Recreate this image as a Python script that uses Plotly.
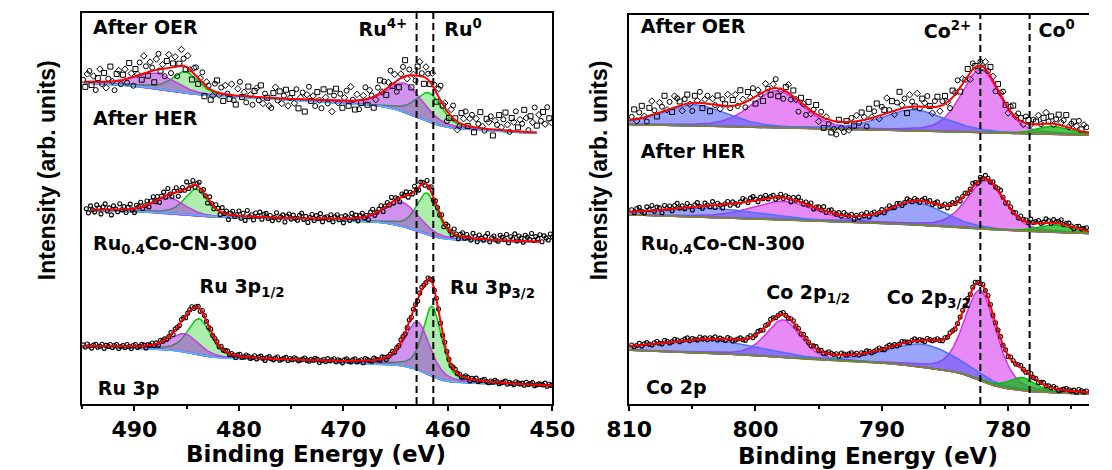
import math
import numpy as np
import plotly.graph_objects as go

# ---------------- Ru 3p panel ----------------
RU_STATE = ["Ru4+", "Ru0", "Ru4+", "Ru0"]
RU_LEVEL = ["3p1/2", "3p1/2", "3p3/2", "3p3/2"]
RU_ETA = 0.45

RU_OER_CENTER = [488.0, 485.1, 464.1, 461.8]
RU_OER_HEIGHT = [15, 21, 29, 29]
RU_OER_FWHM = [4.5, 3.0, 4.0, 3.0]

RU_HER_CENTER = [486.7, 484.1, 464.4, 462.0]
RU_HER_HEIGHT = [15.5, 26.5, 24, 41]
RU_HER_FWHM = [3.5, 2.6, 3.8, 2.4]

RU_BULK_CENTER = [485.2, 483.8, 462.9, 461.5]
RU_BULK_HEIGHT = [18, 36, 48, 70]
RU_BULK_FWHM = [3.2, 2.6, 2.8, 2.1]

RU_BG_LEVEL = [270, 161.5, 18]
RU_BG_SLOPE = [0.45, 0.2, 0.3]
RU_STEP_3P12 = [8, 4.5, 8.2]
RU_STEP_3P32 = [23, 18.7, 17.9]
RU_FIT_START = [494.8, 494.1, 495.0]
RU_FIT_END = [451.5, 451.1, 450.0]

RU_OER_START, RU_OER_STEP = 494.9, 0.2
RU_OER_RES = [
    2, -5, 8, 11, -3, 6, -8, 4, 13, -2, 9, -6, 3, 15, 0, -9, 7, 10, -4, 5,
    10, -4, 15, 4, -9, 7, 1, 12, -6, 17, 6, -4, 9, 3, -12, 11, 16, -1, 5, -7,
    8, 14, -5, 4, 10, -10, 2, 16, 7, -3, 12, 0, -8, 6, 9, -5, 3, 11, -11, 5,
    3, -10, -5, 8, 12, -2, 6, -7, 9, 1, -4, 11, -5, -9, 7, 14, -1, 4, -6, 10,
    2, -8, 6, 9, -3, 12, -6, 4, 0, -8, -10, 5, 11, -2, 7, -5, 3, 9, -7, 1,
    6, -4, 10, -9, 2, 7, -12, 5, 13, -1, 4, -6, 8, 0, -8, 11, 3, -3, 9, -11,
    5, 12, -2, 7, -7, 3, 10, -5, 14, 1, -9, 6, -9, -3, 4, 12, -6, 8, 2, -11,
    -4, 7, 13, 0, 9, -6, 5, 15, -2, 8, -11, -8, 4, 10, 16, -3, 6, -12, 1, -5,
    9, 14, 3, -7, 11, 6, -2, 12, 4, -9, 8, 15, -1, 5, -10, -4, 7, 13, 2, -8,
    -3, 11, 6, 14, 0, 8, 12, -5, 9, 4, 16, 2, -2, 10, 7, 13, -6, 9, 5, 15,
    3, 11, 18, 6, -1, 13, 9, 20, 4, 12, 8, 22, 14, 2, 16, 10, 25, 7, 18, 12,
    21, 9, 26, 15, 11, 19,
]
RU_HER_START, RU_HER_STEP = 494.6, 0.2
RU_HER_RES = [
    1, -3, 4, 0, -2, 5, 2, -4, 3, 6, -1, 2, -5, 4, 1, -2, 6, 0, 3, -3,
    2, 5, -1, -4, 3, 1, 5, -2, 0, 4, -3, 2, 5, -1, 3, -4, 1, 4, -2, 6,
    0, -3, 2, 5, -4, 1, 3, -1, 6, -2, 0, 4, -3, 2, 5, -1, 3, 0, -4, 5,
    1, -2, 4, 2, -3, 5, 0, 3, -5, 2, 4, -1, 1, 5, -2, 3, -4, 6, 0, 2,
    -3, 4, 1, 5, -2, 3, 4, -1, 2, -3, 0, 5, -2, 1, 3, -4, 2, 4, -1, 3,
    0, -2, 3, 5, -1, 2, -4, 1, 4, -2, 3, 0, 5, -3, 1, 2, -1, 4, -3, 2,
    4, -1, 2, -4, 3, 1, -2, 5, 0, 3, -3, 2, 4, -1, 1, -4, 3, 5, -2, 0,
    2, 4, -3, 1, 3, -1, 5, -2, 2, 0, -4, 3, 1, 4, -2, 2, -1, 5, 0, -3,
    3, 1, -2, 4, 0, 5, -3, 2, 1, -1, 4, -4, 2, 3, 0, -2, 5, 1, -3, 2,
    4, -1, 3, 0, -2, 5, 2, -3, 4, 1, -1, 3, 6, -2, 2, 4, 0, -1, 5, 3,
    1, 6, -2, 4, 2, 7, 0, 5, 3, -1, 6, 4, 2, 8, 1, 5, 3, 7, 0, 6,
    4, 2, 8, 5, 3, 9,
]
RU_BULK_START, RU_BULK_STEP = 494.9, 0.2
RU_BULK_RES = [
    1, -1, 2, 0, -2, 1, 2, -1, 0, 2, -2, 1, 0, 2, -1, 1, 2, -2, 0, 1,
    -1, 2, 0, -2, 1, 2, -1, 0, 2, 1, -2, 1, 0, 2, -1, 1, -2, 2, 0, 1,
    -1, 0, 2, -2, 1, 0, -1, 2, 1, -2, 0, 1, 2, -1, 0, 1, -2, 2, 1, 0,
    -1, 2, 0, 1, 1, -1, 2, 0, 1, 2, -1, 1, 0, -2, 1, 2, -1, 0, 2, 1,
    -1, 0, 2, -1, 1, 2, 0, -2, 1, 2, 0, -1, 1, 2, -1, 0, 1, 2, -1, 1,
    0, 2, 1, -1, 0, 1, 2, 0, -1, 1, 0, 2, 1, -2, 0, 1, -1, 2, 0, 1,
    2, -1, 1, 0, -2, 1, 2, 0, -1, 1, 2, -1, 0, 1, -2, 2, 1, 0, -1, 2,
    1, 0, -1, 2, 1, -2, 0, 1, 2, -1, 1, 0, 2, 1, -1, 0, 2, -1, 1, 0,
    -2, 1, 2, 0, -1, 1, 0, 2, -1, 1, 2, 0, -1, 2, 1, 0, -1, 1, 2, 0,
    1, -1, 0, 2, 1, -2, 1, 0, 2, -1, 0, 1, 2, 0, -1, 1, 0, 2, 1, -1,
    0, 1, 2, -1, 1, 0, -1, 2, 1, 0, 1, -1, 2, 0, 1, 2, -1, 0, 1, 1,
    0, 2, -1, 1, 0, 1,
]
RU_REF_LINES = [463.0, 461.4]

RU_LABELS = ["After OER", "Ru<sup>4+</sup>", "Ru<sup>0</sup>", "After HER",
             "Ru<sub>0.4</sub>Co-CN-300", "Ru 3p<sub>1/2</sub>", "Ru 3p<sub>3/2</sub>", "Ru 3p"]

# ---------------- Co 2p panel ----------------
CO_STATE = ["sat", "Co2+", "sat", "Co2+", "Co0"]
CO_LEVEL = ["2p1/2", "2p1/2", "2p3/2", "2p3/2", "2p3/2"]
CO_ETA = 0.35

CO_OER_CENTER = [804.8, 798.3, 787.5, 782.2, 776.5]
CO_OER_HEIGHT = [21, 37, 21, 63, 8]
CO_OER_FWHM = [6.0, 4.8, 6.0, 3.6, 3.0]

CO_HER_CENTER = [803.5, 797.8, 787.2, 781.8, 776.3]
CO_HER_HEIGHT = [9, 18.5, 22, 48, 7.5]
CO_HER_FWHM = [9.0, 5.9, 5.0, 3.5, 3.0]

CO_BULK_CENTER = [803.5, 797.8, 786.7, 782.2, 778.9]
CO_BULK_HEIGHT = [13, 37.5, 23, 90, 13]
CO_BULK_FWHM = [9.0, 3.2, 6.5, 3.0, 2.5]

CO_BG_LEVEL = [269, 170.5, 10]
CO_BG_SLOPE = [0.22, 0.35, 0.3]
CO_STEP_2P12 = [1, 1, 5]
CO_STEP_2P32 = [1.5, 5, 28]
CO_FIT_START = [810.0, 810.0, 810.0]
CO_FIT_END = [773.6, 773.6, 773.6]

CO_OER_START, CO_OER_STEP = 809.8, 0.2
CO_OER_RES = [
    3, 10, -2, 6, 12, 1, -5, 8, 14, 4, -3, 10, 5, 15, 0, 7, -4, 11, 8, 4,
    -6, 5, 9, -1, -8, 7, 2, 11, -5, 4, 8, -7, 6, 0, 10, -3, 7, 2, 12, -2,
    6, 11, -1, 14, 4, -5, 9, 2, 10, -7, 5, -1, -9, 7, 1, -6, 4, 9, -8, -2,
    -9, 4, 8, -5, 6, -1, -11, 5, 1, -8, 7, -3, 3, 9, -6, 5, -10, 2, -4, -12,
    -8, -13, 2, -6, -10, 1, -8, 4, -4, 6, -2, 8, 3, -7, 10, 1, 6, 13, -3, 8,
    4, 15, 2, 10, -4, 7, 17, 3, 9, -6, 12, 5, 0, 13, -2, 8, 4, 11, 1, -6,
    6, 10, -5, 4, 8, 0, -8, 7, 2, 11, -4, 5, 0, 7, -7, 6, 1, -5, 4, -1,
    7, 1, 9, 4, -6, 6, 2, 8, -1, -5, 5, 9, 1, 6, 3, -2, 7, 4, 0, 5,
    3, 9, 0, 6, 11, 2, 7, -1, 5, 10, 3, 6, 12, 1, 5, 8, 4, 10, 2, 7,
    5, 9, 3,
]
CO_HER_START, CO_HER_STEP = 809.8, 0.2
CO_HER_RES = [
    2, -1, 3, 4, 0, -2, 4, 1, 5, -1, 3, 2, -3, 4, 1, 3, -2, 3, 5, 0,
    2, -1, 4, 1, -3, 2, 4, 0, -2, 3, 1, -1, 4, -2, 2, 0, -3, 1, 3, -1,
    2, 0, -2, 1, 4, 2, -1, 3, 4, 1, -2, 2, 0, 3, -1, 1, 2, -2, 0, 3,
    -1, 2, 1, -3, 2, 0, 4, 1, -1, 2, 0, 3, -2, 1, 2, 0, 4, -1, 2, 3,
    1, 0, 2, -1, 3, 1, 0, 2, -3, 1, -1, 2, 0, 3, -2, 1, 2, -1, 0, 2,
    -2, 1, 3, 0, -1, 2, 1, -2, 0, 3, 1, -1, 2, 0, -2, 1, 3, 0, 2, -1,
    1, 3, -1, 0, 2, -2, 1, 2, 0, 3, -1, 1, 2, -1, 0, 3, 1, -2, 2, 0,
    3, 1, -1, 2, 0, 2, 4, 1, -1, 3, 2, 0, 2, -1, 3, 1, 2, 0, 4, 1,
    2, 3, 0, 1, 4, 2, -1, 3, 1, 2, 4, 0, 2, 3, 1, -1, 2, 3, 1, 2,
    3, 1, 2,
]
CO_BULK_START, CO_BULK_STEP = 809.8, 0.2
CO_BULK_RES = [
    1, -1, 0, 2, -1, 1, 2, 0, -1, 1, 2, 0, -1, 2, 1, -1, 0, 2, 1, -1,
    0, 1, 2, -1, 1, 0, -1, 2, 0, 1, -1, 1, 0, 2, -1, 1, 0, -1, 2, 1,
    -1, 0, 1, 2, 0, -1, 1, 2, -1, 0, 2, 1, -1, 1, 0, 2, 1, -1, 0, 1,
    2, 0, -1, 1, 2, 0, 1, -1, 2, 1, 0, -1, 1, 2, 0, 1, -1, 0, 2, 1,
    0, 1, -1, 2, 1, 0, 1, 2, 0, 1, -1, 1, 0, 2, 1, -1, 0, 1, 2, 0,
    -1, 1, 2, 0, 1, -1, 0, 2, 1, 0, -1, 1, 2, 0, 1, 0, -1, 2, 1, 0,
    1, 2, 0, -1, 1, 0, 2, 1, -1, 0, 1, 2, 0, 1, -1, 1, 2, 0, -1, 1,
    0, 2, 1, -1, 0, 1, 2, 0, 1, -1, 2, 1, 0, 1, 2, 0, -1, 1, 2, 0,
    1, -1, 1, 2, 0, 1, 0, 2, 1, -1, 0, 1, 2, 1, 0, 1, -1, 2, 1, 0,
    1, 2, 0,
]
CO_REF_LINES = [782.2, 778.3]

CO_LABELS = ["After OER", "Co<sup>2+</sup>", "Co<sup>0</sup>", "After HER",
             "Ru<sub>0.4</sub>Co-CN-300", "Co 2p<sub>1/2</sub>", "Co 2p<sub>3/2</sub>", "Co 2p"]

RU_RANGE = [495, 450]
CO_RANGE = [810, 773.6]

# ---------------- styles ----------------
FONT = "DejaVu Sans"
STYLE = {
    "Ru4+": dict(line="rgb(200,60,230)", fill="rgba(160,40,220,0.5)"),
    "Ru0": dict(line="rgb(0,205,0)", fill="rgba(60,215,60,0.42)"),
    "Co2+": dict(line="rgb(210,50,240)", fill="rgba(215,60,240,0.6)"),
    "sat": dict(line="rgb(80,110,255)", fill="rgba(70,90,245,0.55)"),
    "Co0": dict(line="rgb(0,190,0)", fill="rgba(20,180,20,0.75)"),
}
RU_DRAW_ORDER = ["Ru0", "Ru4+"]
CO_DRAW_ORDER = ["Co2+", "sat", "Co0"]
OER_SYMBOLS = ["circle-open", "square-open", "diamond-open"]

ERF = np.vectorize(math.erf)


def pseudo_voigt(e, c, h, w, eta):
    x = (np.asarray(e, dtype=float) - c) / w
    return h * ((1 - eta) * np.exp(-4 * math.log(2) * x ** 2) + eta / (1 + 4 * x ** 2))


def pv_area(e, c, h, w, eta):
    """Cumulative area of a pseudo-Voigt from -inf up to e."""
    e = np.asarray(e, dtype=float)
    sig = w / (2 * math.sqrt(2 * math.log(2)))
    g = 0.5 * (1 + ERF((e - c) / (sig * math.sqrt(2))))
    lor = 0.5 + np.arctan(2 * (e - c) / w) / math.pi
    return h * ((1 - eta) * sig * math.sqrt(2 * math.pi) * g + eta * (math.pi * w / 2) * lor)


def background(e, e_lo, e_hi, level, slope, steps, levels, centers, heights, widths, eta):
    """Linear slope plus a Shirley-type step for each spin-orbit group."""
    e = np.asarray(e, dtype=float)
    bg = level + slope * (e - e_lo)
    for group, step in steps.items():
        idx = [i for i, lv in enumerate(levels) if lv == group]

        def cum(x):
            return sum(pv_area(x, centers[i], heights[i], widths[i], eta) for i in idx)

        lo, hi = cum(e_lo), cum(e_hi)
        bg = bg + step * (cum(e) - lo) / (hi - lo)
    return bg


fig = go.Figure()


def add_spectrum(xa, ya, states, levels, centers, heights, widths, eta, bg_args,
                 fit_start, fit_end, pts_start, pts_step, residuals, draw_order,
                 noisy, base_color):
    e_lo, e_hi, level, slope, steps = bg_args
    e_fit = np.arange(fit_start, fit_end - 1e-9, -0.05)

    def bg(e):
        return background(e, e_lo, e_hi, level, slope, steps, levels, centers, heights, widths, eta)

    def comps(e):
        return [pseudo_voigt(e, c, h, w, eta) for c, h, w in zip(centers, heights, widths)]

    base = bg(e_fit)
    parts = comps(e_fit)
    for kind in draw_order:
        for i, st in enumerate(states):
            if st != kind:
                continue
            top = base + parts[i]
            fig.add_trace(go.Scatter(
                x=np.concatenate([e_fit, e_fit[::-1]]),
                y=np.concatenate([top, base[::-1]]),
                xaxis=xa, yaxis=ya, mode="lines", fill="toself",
                fillcolor=STYLE[kind]["fill"],
                line=dict(color=STYLE[kind]["line"], width=1.5),
                hoverinfo="skip",
            ))
    fig.add_trace(go.Scatter(x=e_fit, y=base, xaxis=xa, yaxis=ya, mode="lines",
                             line=dict(color=base_color, width=1.5), hoverinfo="skip"))

    e_pts = pts_start - pts_step * np.arange(len(residuals))
    y_pts = bg(e_pts) + sum(comps(e_pts)) + np.asarray(residuals, dtype=float)
    if noisy:
        symbols = [OER_SYMBOLS[i % len(OER_SYMBOLS)] for i in range(len(residuals))]
        marker = dict(symbol=symbols, size=5, color="black", line=dict(width=1, color="black"))
    else:
        marker = dict(symbol="circle-open", size=4, color="black", line=dict(width=1.1, color="black"))
    fig.add_trace(go.Scatter(x=e_pts, y=y_pts, xaxis=xa, yaxis=ya, mode="markers",
                             marker=marker, hoverinfo="skip"))

    fig.add_trace(go.Scatter(x=e_fit, y=base + sum(parts), xaxis=xa, yaxis=ya, mode="lines",
                             line=dict(color="rgb(255,0,0)", width=2), hoverinfo="skip"))


ru_sets = [
    (RU_OER_CENTER, RU_OER_HEIGHT, RU_OER_FWHM, RU_OER_START, RU_OER_STEP, RU_OER_RES, True),
    (RU_HER_CENTER, RU_HER_HEIGHT, RU_HER_FWHM, RU_HER_START, RU_HER_STEP, RU_HER_RES, False),
    (RU_BULK_CENTER, RU_BULK_HEIGHT, RU_BULK_FWHM, RU_BULK_START, RU_BULK_STEP, RU_BULK_RES, False),
]
for k, (cen, hei, fw, p0, dp, res, noisy) in enumerate(ru_sets):
    add_spectrum("x", "y", RU_STATE, RU_LEVEL, cen, hei, fw, RU_ETA,
                 (RU_RANGE[1], RU_RANGE[0], RU_BG_LEVEL[k], RU_BG_SLOPE[k],
                  {"3p1/2": RU_STEP_3P12[k], "3p3/2": RU_STEP_3P32[k]}),
                 RU_FIT_START[k], RU_FIT_END[k], p0, dp, res, RU_DRAW_ORDER, noisy,
                 "rgb(70,190,255)")

co_sets = [
    (CO_OER_CENTER, CO_OER_HEIGHT, CO_OER_FWHM, CO_OER_START, CO_OER_STEP, CO_OER_RES, True),
    (CO_HER_CENTER, CO_HER_HEIGHT, CO_HER_FWHM, CO_HER_START, CO_HER_STEP, CO_HER_RES, False),
    (CO_BULK_CENTER, CO_BULK_HEIGHT, CO_BULK_FWHM, CO_BULK_START, CO_BULK_STEP, CO_BULK_RES, False),
]
for k, (cen, hei, fw, p0, dp, res, noisy) in enumerate(co_sets):
    add_spectrum("x2", "y2", CO_STATE, CO_LEVEL, cen, hei, fw, CO_ETA,
                 (CO_RANGE[1], CO_RANGE[0], CO_BG_LEVEL[k], CO_BG_SLOPE[k],
                  {"2p1/2": CO_STEP_2P12[k], "2p3/2": CO_STEP_2P32[k]}),
                 CO_FIT_START[k], CO_FIT_END[k], p0, dp, res, CO_DRAW_ORDER, noisy,
                 "rgb(160,115,60)")

# in-panel labels drawn as text traces (x in eV, y in plot units)
LABEL_FONT = dict(family=FONT, size=19, color="black", weight="bold")
LABEL_POS = ["middle right", "middle left", "middle right", "middle right",
             "middle right", "middle right", "middle right", "middle right"]
fig.add_trace(go.Scatter(
    x=[493.96, 463.9, 460.35, 493.96, 493.96, 483.76, 459.8, 493.5],
    y=[375, 373, 373, 284, 159, 116, 115, 14],
    text=RU_LABELS, mode="text", xaxis="x", yaxis="y", cliponaxis=False,
    textposition=LABEL_POS, textfont=LABEL_FONT, hoverinfo="skip",
))
fig.add_trace(go.Scatter(
    x=[809.08, 782.93, 777.6, 809.08, 809.08, 799.15, 789.6, 808.66],
    y=[376, 371, 372, 251, 159, 110, 105, 15],
    text=CO_LABELS, mode="text", xaxis="x2", yaxis="y2", cliponaxis=False,
    textposition=LABEL_POS, textfont=LABEL_FONT, hoverinfo="skip",
))

shapes = []
for xe in RU_REF_LINES:
    shapes.append(dict(type="line", xref="x", yref="y domain", x0=xe, x1=xe, y0=0, y1=1,
                       line=dict(color="black", width=2, dash="7px,4px")))
for xe in CO_REF_LINES:
    shapes.append(dict(type="line", xref="x2", yref="y2 domain", x0=xe, x1=xe, y0=0, y1=1,
                       line=dict(color="black", width=2, dash="7px,4px")))

annotations = []
for xp in (0.0225, 0.5405):
    annotations.append(dict(text="Intensity (arb. units)", x=xp, y=0.638, xref="paper",
                            yref="paper", xanchor="center", yanchor="middle", textangle=-90,
                            showarrow=False,
                            font=dict(family="Liberation Sans", size=23, color="black", weight="bold")))
for xp, yp in ((0.2752, 0.033), (0.7923, 0.029)):
    annotations.append(dict(text="Binding Energy (eV)", x=xp, y=yp, xref="paper",
                            yref="paper", xanchor="center", yanchor="middle", showarrow=False,
                            font=dict(family=FONT, size=23, color="black", weight="bold")))

xaxis_common = dict(
    showline=True, linewidth=2, linecolor="black", mirror=True, showgrid=False, zeroline=False,
    ticks="outside", ticklen=5, tickwidth=2, tickcolor="black", dtick=10,
    tickfont=dict(family=FONT, size=22, color="black", weight="bold"),
)
yaxis_common = dict(
    showline=True, linewidth=2, linecolor="black", showgrid=False, zeroline=False,
    ticks="", showticklabels=False, fixedrange=True,
)

fig.update_layout(
    width=1112, height=470, margin=dict(l=0, r=0, t=0, b=0),
    paper_bgcolor="white", plot_bgcolor="white", showlegend=False,
    font=dict(family=FONT, size=19, color="black"),
    xaxis=dict(domain=[0.05549, 0.49667], range=RU_RANGE, anchor="y", tick0=450,
               minor=dict(dtick=5, tick0=450, ticks="outside", ticklen=3, tickwidth=1.5, tickcolor="black"),
               **xaxis_common),
    xaxis2=dict(domain=[0.56862, 1.0], range=CO_RANGE, anchor="y2", tick0=810,
                minor=dict(dtick=5, tick0=810, ticks="outside", ticklen=3, tickwidth=1.5, tickcolor="black"),
                **xaxis_common),
    yaxis=dict(domain=[0.14043, 0.97340], range=[0, 391.5], anchor="x", mirror=True, **yaxis_common),
    yaxis2=dict(domain=[0.14043, 0.96851], range=[0, 389.2], anchor="x2", mirror=False, **yaxis_common),
    shapes=shapes,
    annotations=annotations,
)

fig.write_html("out.html")
